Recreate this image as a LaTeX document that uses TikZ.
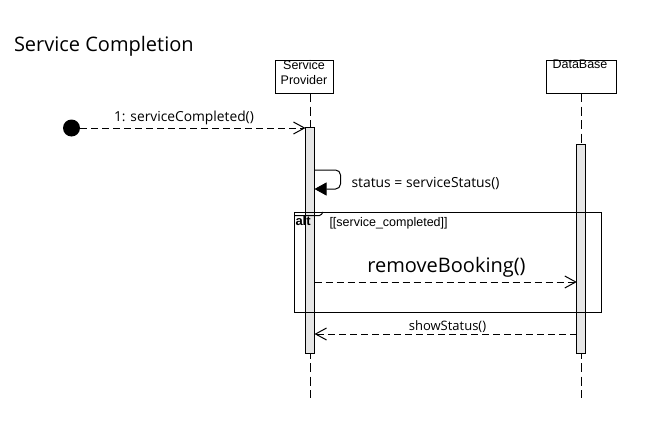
\documentclass[tikz,border=0pt]{standalone}
\usepackage{fontspec}
\setmainfont{Open Sans}
\newfontfamily\arialf{Liberation Sans}
\usetikzlibrary{arrows.meta}
\definecolor{actgray}{HTML}{E6E6E6}
\tikzset{
  every node/.style={inner sep=0pt, outer sep=0pt},
  lifebox/.style={draw, line width=1pt, fill=white, minimum height=33pt},
  boxlabel/.style={align=center, anchor=north, font=\arialf\fontsize{12.5}{15}\selectfont},
  lifeline/.style={line width=1pt, dash pattern=on 9pt off 4.5pt},
  actbar/.style={draw, line width=1pt, fill=actgray, minimum width=9pt},
  msg/.style={line width=1pt, dash pattern=on 7pt off 4pt, -{Straight Barb[length=11pt,width=12pt,line width=1pt]}},
  selfmsg/.style={line width=1pt, rounded corners=5pt, -{Triangle[length=12pt,width=13pt]}},
  msgtext/.style={anchor=base, font=\fontsize{13.8}{16}\selectfont},
  frame/.style={draw, line width=1pt, anchor=north west},
  guard/.style={anchor=base west, font=\arialf\fontsize{12.5}{15}\selectfont},
}
\begin{document}
\begin{tikzpicture}[x=1pt, y=-1pt]
\useasboundingbox (0,0) rectangle (671,444);

% title
\node[anchor=base west, font=\fontsize{20}{24}\selectfont] (title) at (14,52) {Service Completion};

% lifeline heads
\node[lifebox, minimum width=58pt] (spbox) at (304,76.5) {};
\node[boxlabel] (splbl) at (304,60) {Service\\Provider};
\node[lifebox, minimum width=70pt] (dbbox) at (581,76.5) {};
\node[boxlabel] (dblbl) at (580,59.5) {DataBase};

% lifelines
\coordinate (spTop) at (310.5,93);
\coordinate (spEnd) at (310.5,398);
\coordinate (dbTop) at (581.5,93);
\coordinate (dbEnd) at (581.5,398);
\draw[lifeline] (spTop) -- (spEnd);
\draw[lifeline] (dbTop) -- (dbEnd);

% activation bars
\node[actbar, minimum height=226pt] (spAct) at (310,240) {};
\node[actbar, minimum height=209pt] (dbAct) at (581.3,248.5) {};

% alt frame
\node[frame, minimum width=307.5pt, minimum height=100pt] (altfr) at (294,212) {};
\draw[line width=1pt] (altfr.north west |- 0,215.5) -- (319.5,215.5) to[out=0,in=-130] (323,212);
\node[anchor=base west, font=\arialf\bfseries\fontsize{13}{15}\selectfont] (altlbl) at (295.5,225.5) {alt};
\node[guard] (guardtxt) at (329.5,226) {[[service\_completed]]};

% start point and first message
\node[circle, fill=black, minimum size=17pt] (start) at (71.5,128) {};
\draw[msg] (start.east) -- (start -| spAct.west);
\node[msgtext] (m1) at (184,121) {1: serviceCompleted()};

% self message
\draw[selfmsg] (spAct.east |- 0,170) -- ++(26,0) -- ++(0,19) -- (spAct.east |- 0,189);
\node[anchor=base west, font=\fontsize{13.9}{16}\selectfont] (m2) at (351.5,187) {status = serviceStatus()};

% removeBooking
\draw[msg] (spAct.east |- 0,282) -- (dbAct.west |- 0,282);
\node[anchor=base, font=\fontsize{20}{24}\selectfont] (m3) at (446.5,272) {removeBooking()};

% showStatus
\draw[msg] (dbAct.west |- 0,334) -- (spAct.east |- 0,334);
\node[anchor=base, font=\fontsize{13}{15}\selectfont] (m4) at (447.5,330) {showStatus()};
\end{tikzpicture}
\end{document}
